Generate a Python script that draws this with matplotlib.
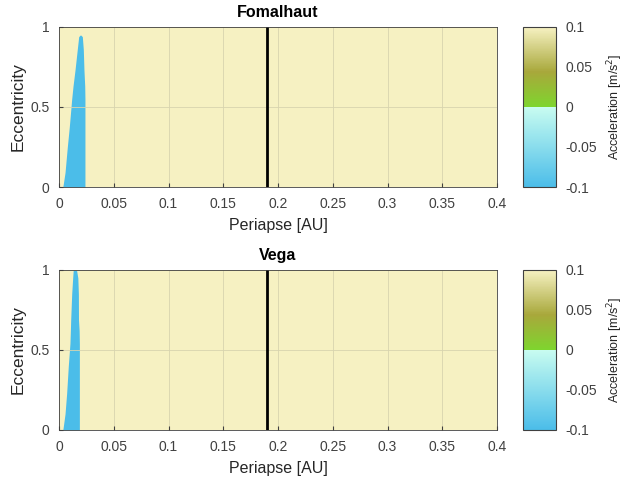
""" eccentricity vs periapse acceleration maps """
import matplotlib
matplotlib.use("Agg")
from matplotlib import pyplot as plt
from matplotlib.colors import LinearSegmentedColormap, Normalize
from matplotlib.cm import ScalarMappable

plt.rcParams["font.family"] = ["Liberation Sans", "DejaVu Sans"]

stars = ["Fomalhaut", "Vega"]
line_x = 0.19  # black marker line, AU

# negative-acceleration region (ecc, left / right periapse)
fom_ecc = [0.0, 0.09, 0.25, 0.375, 0.55, 0.63, 0.73, 0.86, 0.94, 0.95]
fom_left = [0.0035, 0.0055, 0.0076, 0.0094, 0.0116, 0.0128, 0.0146, 0.0167, 0.018, 0.0195]
fom_right = [0.0237, 0.0237, 0.0237, 0.0237, 0.0237, 0.0235, 0.0228, 0.0222, 0.0213, 0.0198]

vega_ecc = [0.0, 0.1, 0.23, 0.4, 0.54, 0.62, 0.69, 0.85, 0.95, 1.0]
vega_left = [0.0035, 0.0055, 0.007, 0.0085, 0.010, 0.0104, 0.0107, 0.0116, 0.0125, 0.013]
vega_right = [0.0186, 0.0186, 0.0186, 0.0186, 0.0186, 0.0184, 0.0178, 0.0177, 0.0172, 0.016]

regions = [(fom_ecc, fom_left, fom_right), (vega_ecc, vega_left, vega_right)]

cbar_ticks = [-0.1, -0.05, 0, 0.05, 0.1]
x_ticks = [0, 0.05, 0.1, 0.15, 0.2, 0.25, 0.3, 0.35, 0.4]
y_ticks = [0, 0.5, 1]

cmap = LinearSegmentedColormap.from_list("acc", [
    (0.0, "#4bbde9"),
    (0.4999, "#c8fcf0"),
    (0.5, "#7ed52e"),
    (0.72, "#a8a83b"),
    (1.0, "#f6f1c2")])
norm = Normalize(-0.1, 0.1)
txt = "#404040"

fig = plt.figure(figsize=(6.25, 4.88), dpi=100)
ax_pos = [[0.0944, 0.6168, 0.7008, 0.3279], [0.0944, 0.1189, 0.7008, 0.3279]]
cb_pos = [[0.8368, 0.6168, 0.0528, 0.3279], [0.8368, 0.1189, 0.0528, 0.3279]]

for i, name in enumerate(stars):
    ax = fig.add_axes(ax_pos[i])
    ax.set_facecolor(cmap(norm(0.1)))
    ecc, left, right = regions[i]
    ax.fill_betweenx(ecc, left, right, color=cmap(norm(-0.1)), linewidth=0)
    ax.axvline(line_x, color="black", linewidth=2)
    ax.set_xlim(0, 0.4)
    ax.set_ylim(0, 1)
    ax.set_xticks(x_ticks)
    ax.set_xticklabels(["0", "0.05", "0.1", "0.15", "0.2", "0.25", "0.3", "0.35", "0.4"])
    ax.set_yticks(y_ticks)
    ax.set_yticklabels(["0", "0.5", "1"])
    ax.grid(True, color="#d8d4ae", linewidth=0.6)
    ax.tick_params(direction="in", length=3, labelsize=10, colors=txt, pad=7)
    for s in ax.spines.values():
        s.set_color("#404040")
        s.set_linewidth(0.6)
    ax.set_xlabel("Periapse [AU]", fontsize=11.5, color="#262626", labelpad=5)
    ax.set_ylabel("Eccentricity", fontsize=12.5, color="#262626", labelpad=3)
    ax.set_title(name, fontsize=11.5, fontweight="bold", pad=7)

    cax = fig.add_axes(cb_pos[i])
    cb = fig.colorbar(ScalarMappable(norm=norm, cmap=cmap), cax=cax, ticks=cbar_ticks)
    cb.ax.set_yticklabels(["-0.1", "-0.05", "0", "0.05", "0.1"])
    cb.ax.tick_params(labelsize=10, length=0, colors=txt, pad=7)
    cb.outline.set_color("#404040")
    cb.outline.set_linewidth(0.8)
    cb.set_label("Acceleration [m/s$^2$]", fontsize=9, color="#262626", labelpad=6)

fig.savefig("out.png", dpi=100)
